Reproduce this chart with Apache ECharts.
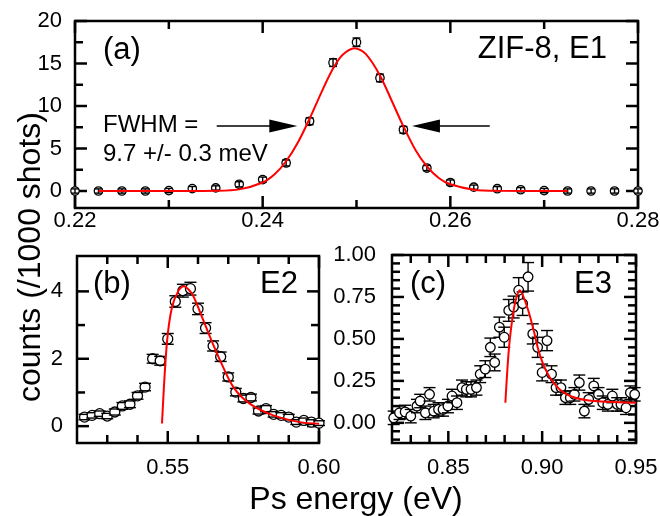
<!DOCTYPE html>
<html>
<head>
<meta charset="utf-8">
<script src="https://cdn.jsdelivr.net/npm/echarts@6/dist/echarts.min.js"></script>
<style>
html, body { margin: 0; padding: 0; background: #fff; }
#chart { width: 660px; height: 516px; }
</style>
</head>
<body>
<div id="chart"></div>
<script>
// (a) ZIF-8, E1
const xA = [0.22, 0.2225, 0.225, 0.2275, 0.23, 0.2325, 0.235, 0.2375, 0.24, 0.2425, 0.245, 0.2475, 0.25,
    0.2525, 0.255, 0.2575, 0.26, 0.2625, 0.265, 0.2675, 0.27, 0.2725, 0.275, 0.2775, 0.28];
const yA = [0, 0, 0, 0, 0.05, 0.28, 0.36, 0.79, 1.34, 3.3, 8.2, 15.1, 17.5,
    13.3, 7.2, 2.7, 1.0, 0.45, 0.27, 0.15, 0.05, 0, 0, 0, 0];
const eA = [0.25, 0.25, 0.25, 0.25, 0.25, 0.25, 0.25, 0.3, 0.3, 0.35, 0.4, 0.45, 0.5,
    0.45, 0.4, 0.3, 0.3, 0.25, 0.25, 0.25, 0.25, 0.25, 0.25, 0.25, 0.25];
const fitXA = [0.2225, 0.23, 0.235, 0.2375, 0.24, 0.2413, 0.2425, 0.2438, 0.245, 0.2463, 0.2475, 0.2485, 0.2498,
    0.251, 0.2525, 0.2538, 0.255, 0.2563, 0.2575, 0.2588, 0.26, 0.2625, 0.265, 0.2725];
const fitYA = [0, 0, 0.03, 0.19, 1.0, 2.0, 3.5, 5.8, 8.5, 11.7, 14.4, 16.0, 16.8,
    16.1, 13.6, 10.5, 7.6, 4.8, 2.9, 1.5, 0.79, 0.15, 0.02, 0];

// (b) E2
const xB = [0.5225, 0.525, 0.5275, 0.53, 0.5325, 0.535, 0.5375, 0.54, 0.5425, 0.545, 0.5475, 0.55,
    0.5525, 0.555, 0.5575, 0.56, 0.5625, 0.565, 0.5675, 0.57, 0.5725, 0.575, 0.5775, 0.58,
    0.5825, 0.585, 0.5875, 0.59, 0.5925, 0.595, 0.5975, 0.6];
const yB = [0.27, 0.32, 0.37, 0.30, 0.42, 0.60, 0.65, 0.90, 1.16, 2.00, 1.94, 2.59,
    3.70, 4.02, 4.08, 3.48, 2.91, 2.38, 2.06, 1.46, 1.01, 0.82, 0.85, 0.45,
    0.52, 0.35, 0.32, 0.27, 0.12, 0.17, 0.12, 0.09];
const eB = [0.08, 0.08, 0.08, 0.08, 0.09, 0.1, 0.1, 0.1, 0.11, 0.13, 0.13, 0.16,
    0.17, 0.19, 0.19, 0.17, 0.16, 0.15, 0.14, 0.12, 0.11, 0.1, 0.1, 0.09,
    0.09, 0.08, 0.08, 0.08, 0.07, 0.07, 0.07, 0.07];
const fitXB = [0.5481, 0.5497, 0.5514, 0.5536, 0.5552, 0.558, 0.5607, 0.564, 0.5673, 0.5717, 0.5772, 0.5849, 0.5937, 0.6];
const fitYB = [0.08, 2.45, 3.53, 4.03, 4.15, 3.93, 3.38, 2.64, 1.95, 1.16, 0.66, 0.32, 0.12, 0.07];

// (c) E3
const xC = [0.8209, 0.824, 0.827, 0.830, 0.8333, 0.835, 0.8378, 0.840, 0.8422, 0.8448, 0.8472, 0.8498,
    0.852, 0.8546, 0.8573, 0.8596, 0.8621, 0.865, 0.867, 0.8697, 0.8724, 0.8747, 0.8772, 0.8798,
    0.8822, 0.8848, 0.8875, 0.8896, 0.8925, 0.895, 0.8976, 0.900, 0.9026, 0.905, 0.9074, 0.910,
    0.9124, 0.915, 0.9172, 0.9198, 0.9225, 0.9248, 0.9275, 0.930, 0.9323, 0.935, 0.9374, 0.940,
    0.942, 0.9447, 0.947, 0.9493];
const yC = [0.03, 0.06, 0.065, 0.04, 0.10, 0.13, 0.06, 0.17, 0.07, 0.08, 0.08, 0.10,
    0.16, 0.12, 0.21, 0.20, 0.20, 0.21, 0.29, 0.32, 0.45, 0.36, 0.57, 0.51,
    0.67, 0.69, 0.79, 0.71, 0.87, 0.53, 0.45, 0.30, 0.49, 0.29, 0.21, 0.21,
    0.15, 0.15, 0.17, 0.24, 0.07, 0.14, 0.22, 0.17, 0.12, 0.11, 0.16, 0.11,
    0.11, 0.09, 0.18, 0.17];
const eC = [0.04, 0.04, 0.04, 0.04, 0.04, 0.04, 0.04, 0.04, 0.04, 0.04, 0.04, 0.04,
    0.04, 0.04, 0.045, 0.045, 0.045, 0.045, 0.05, 0.05, 0.055, 0.05, 0.06, 0.06,
    0.065, 0.065, 0.075, 0.07, 0.085, 0.06, 0.06, 0.05, 0.06, 0.05, 0.045, 0.045,
    0.04, 0.04, 0.04, 0.045, 0.04, 0.04, 0.045, 0.04, 0.04, 0.04, 0.04, 0.04,
    0.04, 0.04, 0.04, 0.04];
const fitXC = [0.8804, 0.8822, 0.884, 0.8857, 0.888, 0.892, 0.8955, 0.8981, 0.9017, 0.906, 0.9115, 0.9186, 0.9275, 0.94, 0.95];
const fitYC = [0.12, 0.43, 0.61, 0.72, 0.79, 0.69, 0.55, 0.43, 0.32, 0.24, 0.18, 0.147, 0.13, 0.123, 0.12];

// tick values (major ones get labels)
const ticksXA = [0.22, 0.24, 0.26, 0.28], minorXA = [0.23, 0.25, 0.27];
const ticksYA = [0, 5, 10, 15, 20], minorYA = [2.5, 7.5, 12.5, 17.5];
const ticksXB = [0.55, 0.6], minorXB = [0.53, 0.54, 0.56, 0.57, 0.58, 0.59];
const ticksYB = [0, 2, 4], minorYB = [1, 3];
const ticksXC = [0.85, 0.9, 0.95], minorXC = [0.83, 0.84, 0.86, 0.87, 0.88, 0.89, 0.91, 0.92, 0.93, 0.94];
const ticksYC = [0, 0.25, 0.5, 0.75, 1.0],
    minorYC = [-0.1, -0.05, 0.05, 0.1, 0.15, 0.2, 0.3, 0.35, 0.4, 0.45, 0.55, 0.6, 0.65, 0.7, 0.8, 0.85, 0.9, 0.95];

const FONT = '"Liberation Sans", Arial, sans-serif';

function axis(gi, pos, min, max, labels, fmt, margin) {
    return {
        type: 'value', gridIndex: gi, min: min, max: max, position: pos,
        axisLine: { show: false, onZero: false },
        axisTick: { show: false },
        axisLabel: {
            show: true, customValues: labels, formatter: fmt, margin: margin,
            fontSize: 22, color: '#000', fontFamily: FONT,
            showMinLabel: true, showMaxLabel: true, hideOverlap: false
        },
        splitLine: { show: false }
    };
}

const f2 = v => v.toFixed(2);
const f0 = v => String(v);

// tick rows: [value, 0 x / 1 y, length]
function tickRows(xMaj, xMin, yMaj, yMin) {
    const rows = [];
    xMaj.forEach(v => rows.push([v, 0, 12]));
    xMin.forEach(v => rows.push([v, 0, 8]));
    yMaj.forEach(v => rows.push([v, 1, 12]));
    yMin.forEach(v => rows.push([v, 1, 8]));
    return rows;
}

// inward ticks on all four sides of the frame
function tickLines(cs, api, rows) {
    const out = [];
    const st = () => ({ stroke: '#000', lineWidth: 2.5 });
    rows.forEach(t => {
        const v = t[0], len = t[2];
        if (t[1] === 0) {
            const px = api.coord([v, 0])[0];
            out.push({ type: 'line', shape: { x1: px, y1: cs.y + cs.height, x2: px, y2: cs.y + cs.height - len }, style: st() });
            out.push({ type: 'line', shape: { x1: px, y1: cs.y, x2: px, y2: cs.y + len }, style: st() });
        } else {
            const py = api.coord([0, v])[1];
            out.push({ type: 'line', shape: { x1: cs.x, y1: py, x2: cs.x + len, y2: py }, style: st() });
            out.push({ type: 'line', shape: { x1: cs.x + cs.width, y1: py, x2: cs.x + cs.width - len, y2: py }, style: st() });
        }
    });
    return out;
}

// error bar + open circle (first item also carries the frame ticks)
function errItem(r, cap, fullStem, ticks) {
    return function (params, api) {
        const x = api.value(0), y = api.value(1), e = api.value(2);
        const c = api.coord([x, y]);
        const t = api.coord([x, y + e]);
        const b = api.coord([x, y - e]);
        const ls = () => ({ stroke: '#000', lineWidth: 1.4 });
        const kids = params.dataIndex === 0 ? tickLines(params.coordSys, api, ticks) : [];
        kids.push({ type: 'circle', shape: { cx: c[0], cy: c[1], r: r }, style: { fill: '#fff', stroke: '#000', lineWidth: 1.3 } });
        if (fullStem) {
            kids.push({ type: 'line', shape: { x1: c[0], y1: t[1], x2: c[0], y2: b[1] }, style: ls() });
        } else {
            if (c[1] - t[1] > r) kids.push({ type: 'line', shape: { x1: c[0], y1: t[1], x2: c[0], y2: c[1] - r }, style: ls() });
            if (b[1] - c[1] > r) kids.push({ type: 'line', shape: { x1: c[0], y1: c[1] + r, x2: c[0], y2: b[1] }, style: ls() });
        }
        kids.push({ type: 'line', shape: { x1: c[0] - cap, y1: t[1], x2: c[0] + cap, y2: t[1] }, style: ls() });
        kids.push({ type: 'line', shape: { x1: c[0] - cap, y1: b[1], x2: c[0] + cap, y2: b[1] }, style: ls() });
        return { type: 'group', children: kids };
    };
}

const zip3 = (a, b, c) => a.map((v, i) => [v, b[i], c[i]]);
const zip2 = (a, b) => a.map((v, i) => [v, b[i]]);

const chart = echarts.init(document.getElementById('chart'), null, { renderer: 'canvas' });

const gridBox = { show: true, borderColor: '#000', borderWidth: 2.5, backgroundColor: 'transparent', containLabel: false, outerBoundsMode: 'none' };

const option = {
    animation: false,
    backgroundColor: '#fff',
    textStyle: { fontFamily: FONT },
    grid: [
        Object.assign({ left: 75, top: 21, width: 563, height: 187 }, gridBox),
        Object.assign({ left: 77, top: 256, width: 242, height: 187 }, gridBox),
        Object.assign({ left: 392, top: 255, width: 244, height: 188 }, gridBox)
    ],
    xAxis: [
        axis(0, 'bottom', 0.22, 0.28, ticksXA, f2, 2),
        axis(1, 'bottom', 0.52, 0.60, ticksXB, f2, 14),
        axis(2, 'bottom', 0.82, 0.95, ticksXC, f2, 14)
    ],
    yAxis: [
        axis(0, 'left', -2, 20, ticksYA, f0, 13),
        axis(1, 'left', -0.5, 5.05, ticksYB, f0, 14),
        axis(2, 'left', -0.12, 1.0, ticksYC, f2, 16)
    ],
    series: [
        {
            type: 'custom', xAxisIndex: 0, yAxisIndex: 0, clip: false, z: 3,
            renderItem: errItem(4.2, 4, true, tickRows(ticksXA, minorXA, ticksYA, minorYA)), encode: { x: 0, y: 1 },
            data: zip3(xA, yA, eA)
        },
        {
            type: 'line', xAxisIndex: 0, yAxisIndex: 0, z: 5, smooth: 0.3, showSymbol: false, symbol: 'none',
            lineStyle: { color: '#ff0000', width: 2 },
            data: zip2(fitXA, fitYA),
            markLine: {
                silent: true, symbol: ['none', 'triangle'], symbolSize: [13, 28],
                lineStyle: { color: '#000', width: 1.6, type: 'solid' },
                label: { show: false },
                data: [
                    [{ coord: [0.2351, 7.65] }, { coord: [0.2422, 7.65] }],
                    [{ coord: [0.2642, 7.65] }, { coord: [0.2574, 7.65] }]
                ]
            }
        },
        {
            type: 'custom', xAxisIndex: 1, yAxisIndex: 1, clip: false, z: 3,
            renderItem: errItem(5, 6, false, tickRows(ticksXB, minorXB, ticksYB, minorYB)), encode: { x: 0, y: 1 },
            data: zip3(xB, yB, eB)
        },
        {
            type: 'line', xAxisIndex: 1, yAxisIndex: 1, z: 5, smooth: 0.3, showSymbol: false, symbol: 'none',
            lineStyle: { color: '#ff0000', width: 2 },
            data: zip2(fitXB, fitYB)
        },
        {
            type: 'custom', xAxisIndex: 2, yAxisIndex: 2, clip: false, z: 3,
            renderItem: errItem(4.8, 6, false, tickRows(ticksXC, minorXC, ticksYC, minorYC)), encode: { x: 0, y: 1 },
            data: zip3(xC, yC, eC)
        },
        {
            type: 'line', xAxisIndex: 2, yAxisIndex: 2, z: 5, smooth: 0.3, showSymbol: false, symbol: 'none',
            lineStyle: { color: '#ff0000', width: 2 },
            data: zip2(fitXC, fitYC)
        }
    ],
    graphic: [
        { type: 'text', left: 103, top: 35, style: { text: '(a)', font: '31px ' + FONT, fill: '#000' } },
        { type: 'text', right: 53, top: 34, style: { text: 'ZIF-8, E1', font: '31px ' + FONT, fill: '#000' } },
        { type: 'text', left: 103, top: 113, style: { text: 'FWHM =', font: '24px ' + FONT, fill: '#000' } },
        { type: 'text', left: 103, top: 142, style: { text: '9.7 +/- 0.3 meV', font: '24px ' + FONT, fill: '#000' } },
        { type: 'text', left: 93, top: 269, style: { text: '(b)', font: '31px ' + FONT, fill: '#000' } },
        { type: 'text', right: 362, top: 269, style: { text: 'E2', font: '31px ' + FONT, fill: '#000' } },
        { type: 'text', left: 410, top: 269, style: { text: '(c)', font: '31px ' + FONT, fill: '#000' } },
        { type: 'text', right: 48, top: 269, style: { text: 'E3', font: '31px ' + FONT, fill: '#000' } },
        {
            type: 'text', x: 31, y: 257, rotation: Math.PI / 2,
            style: { text: 'counts (/1000 shots)', font: '32px ' + FONT, fill: '#000', align: 'center', verticalAlign: 'middle', textAlign: 'center', textVerticalAlign: 'middle' }
        },
        {
            type: 'text', x: 356, y: 500,
            style: { text: 'Ps energy (eV)', font: '32px ' + FONT, fill: '#000', align: 'center', verticalAlign: 'middle', textAlign: 'center', textVerticalAlign: 'middle' }
        }
    ]
};

chart.setOption(option);
</script>
</body>
</html>
